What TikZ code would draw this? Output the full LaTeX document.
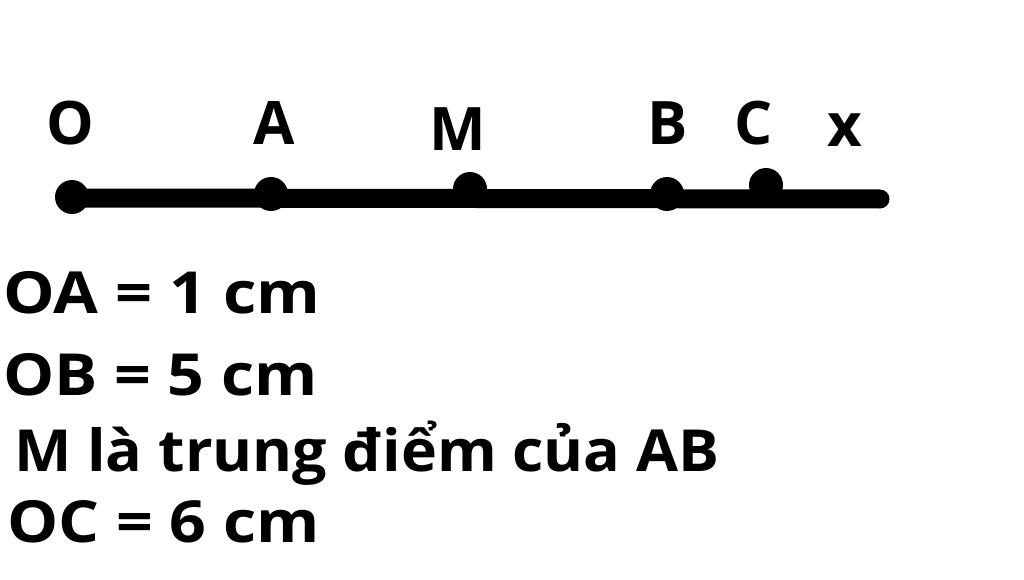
\documentclass[tikz,border=0pt]{standalone}
\usepackage{fontspec}
\setmainfont{Open Sans}[BoldFont={* Bold}]
\begin{document}
\begin{tikzpicture}[x=1pt,y=-1pt,
  dot/.style={circle,fill=black,inner sep=0pt,minimum size=34pt},
  lbl/.style={anchor=base,inner sep=0pt,font=\fontsize{60}{60}\selectfont\bfseries},
  txt/.style={anchor=base west,inner sep=0pt,font=\fontsize{58}{58}\selectfont\bfseries}]
\useasboundingbox (0,0) rectangle (1024,580);
\fill[white] (0,0) rectangle (1024,580);
\coordinate (pO) at (72,198);
\coordinate (xend) at (880,199);
\draw[line width=19pt,line cap=round] (pO) -- (xend);
\node[dot] (O) at (72,197) {};
\node[dot] (A) at (271,194) {};
\node[dot] (M) at (470,189) {};
\node[dot] (B) at (667,194) {};
\node[dot] (C) at (766,185) {};
\node[lbl] (lO) at (70,145) {O};
\node[lbl] (lA) at (274,145) {A};
\node[lbl] (lM) at (458,150) {M};
\node[lbl] (lB) at (668,145) {B};
\node[lbl] (lC) at (754,145) {C};
\node[lbl] (lx) at (845,147) {x};
\node[txt] (t1) at (3,313) {\scalebox{1.12}[1]{OA = 1 cm}};
\node[txt] (t2) at (3,395) {\scalebox{1.11}[1]{OB = 5 cm}};
\node[txt] (t3) at (14,471) {\scalebox{1.05}[1]{M là trung điểm của AB}};
\node[txt] (t4) at (7,542) {\scalebox{1.11}[1]{OC = 6 cm}};
\end{tikzpicture}
\end{document}
